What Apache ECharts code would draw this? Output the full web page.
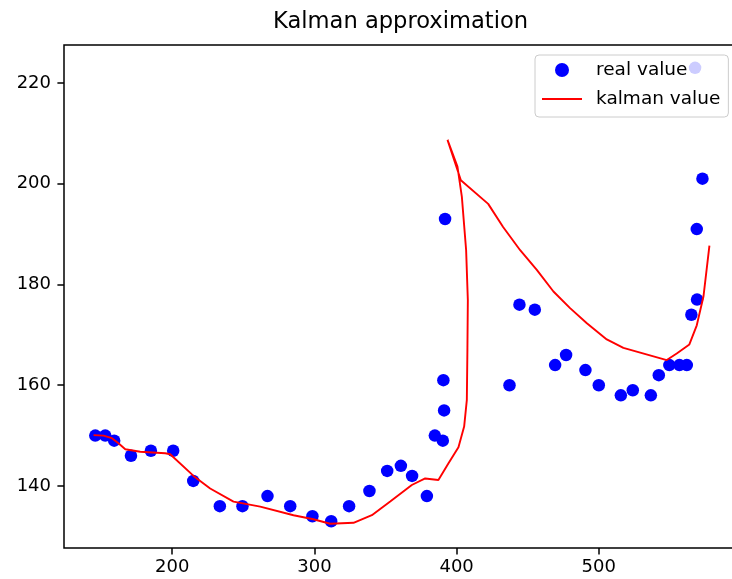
<!DOCTYPE html>
<html>
<head>
<meta charset="utf-8">
<script src="https://cdn.jsdelivr.net/npm/echarts@6/dist/echarts.min.js"></script>
<style>
html,body{margin:0;padding:0;background:#fff;}
#chart{width:732px;height:579px;}
</style>
</head>
<body>
<div id="chart"></div>
<script>
var titleText = 'Kalman approximation';
var seriesNames = ['real value', 'kalman value'];

var realX = [145.9,152.9,159.2,171.0,185.0,200.7,214.8,233.5,249.4,267.0,283.0,298.6,311.8,324.4,338.7,351.2,360.8,368.7,379.1,384.7,390.3,391.2,390.7,391.9,437.2,444.2,455.0,469.3,477.0,490.6,500.0,515.5,523.9,536.6,542.2,549.6,556.7,561.9,565.1,569.1,568.9,572.9,567.7];
var realY = [150,150,149,146,147,147,141,136,136,138,136,134,133,136,139,143,144,142,138,150,149,155,161,193,160,176,175,164,166,163,160,158,159,158,162,164,164,164,174,177,191,201,223];

var kalmanX = [144.7,151.7,157.6,162.2,167.0,177.5,195.1,198.6,215.0,226.7,243.1,261.9,285.3,299.3,311.1,327.5,340.4,353.3,368.5,377.9,387.2,394.3,401.3,405.3,407.2,407.6,407.9,406.7,403.7,400.6,393.6,403.0,422.2,432.7,444.7,456.4,468.1,479.8,491.6,505.6,517.3,547.8,554.8,563.7,568.9,573.6,577.8];
var kalmanY = [150.1,150.0,149.5,148.5,147.3,146.8,146.5,146.3,142.0,139.5,136.9,135.9,134.2,133.4,132.5,132.7,134.2,136.9,140.2,141.5,141.2,144.5,147.7,151.8,157.1,167.0,176.9,186.8,197.4,203.4,208.7,200.7,196.0,191.4,186.8,182.9,178.6,175.3,172.3,169.1,167.4,165.0,166.3,168.1,171.9,177.6,187.7];

var xMin = 123.9, xMax = 599.3;
var yMin = 127.69, yMax = 227.54;

function pairs(xs, ys){ return xs.map(function(x,i){ return [x, ys[i]]; }); }

var chart = echarts.init(document.getElementById('chart'), null, {renderer:'canvas'});
var font = 'DejaVu Sans';
chart.setOption({
  animation: false,
  backgroundColor: '#fff',
  title: {
    text: titleText,
    left: 273, top: 9, padding: 0,
    textStyle: {fontFamily: font, fontSize: 22.6, fontWeight: 'normal', color: '#000', lineHeight: 26}
  },
  legend: {
    orient: 'vertical',
    left: 535, top: 55,
    padding: [4, 8, 7, 7],
    itemGap: 7,
    itemWidth: 40, itemHeight: 14,
    backgroundColor: 'rgba(255,255,255,0.8)',
    borderColor: '#cccccc', borderWidth: 1, borderRadius: 4,
    textStyle: {fontFamily: font, fontSize: 18.5, color: '#000', lineHeight: 22, padding: [0,0,0,9]},
    data: [
      {name: seriesNames[0], icon: 'circle'},
      {name: seriesNames[1], icon: 'path://M0,0 L40,0 L40,1.9 L0,1.9 Z'}
    ]
  },
  grid: {
    left: 64, top: 45, width: 676, bottom: 31,
    containLabel: false,
    outerBoundsMode: 'none',
    show: true, borderColor: '#000', borderWidth: 1.5
  },
  xAxis: {
    type: 'value', min: xMin, max: xMax, splitNumber: 5,
    axisLine: {show: false},
    axisTick: {show: true, length: 6.6, lineStyle: {color: '#000', width: 1.5}},
    splitLine: {show: false},
    axisLabel: {showMinLabel: false, showMaxLabel: false, margin: 10, fontFamily: font, fontSize: 18, color: '#000'}
  },
  yAxis: {
    type: 'value', min: yMin, max: yMax, splitNumber: 5,
    axisLine: {show: false},
    axisTick: {show: true, length: 6.6, lineStyle: {color: '#000', width: 1.5}},
    splitLine: {show: false},
    axisLabel: {showMinLabel: false, showMaxLabel: false, margin: 13, fontFamily: font, fontSize: 18, color: '#000'}
  },
  series: [
    {
      name: seriesNames[0], type: 'scatter',
      data: pairs(realX, realY),
      symbol: 'circle', symbolSize: 12.5,
      itemStyle: {color: '#0000ff', opacity: 1},
      z: 2
    },
    {
      name: seriesNames[1], type: 'line',
      data: pairs(kalmanX, kalmanY),
      symbol: 'none', showSymbol: false, smooth: false,
      lineStyle: {color: '#ff0000', width: 1.9},
      itemStyle: {color: '#ff0000'},
      z: 3
    }
  ]
});
</script>
</body>
</html>
